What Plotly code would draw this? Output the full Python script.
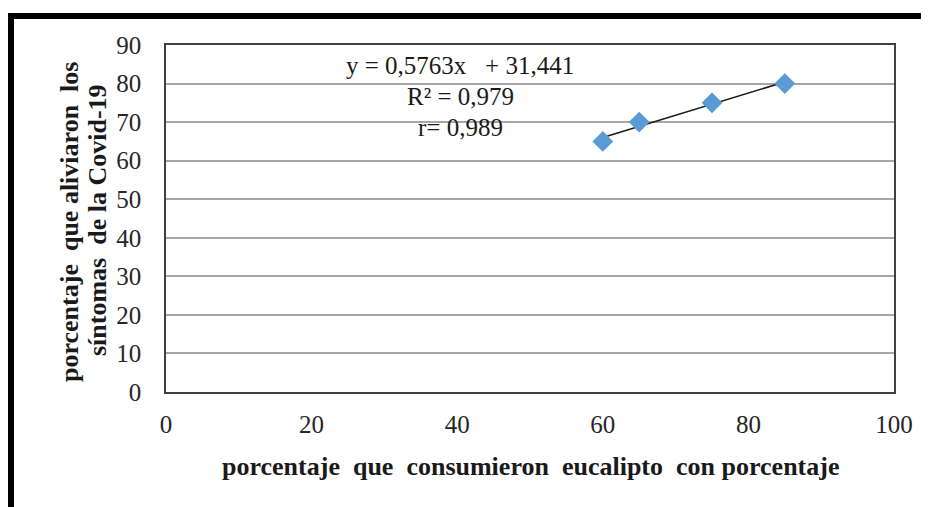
import plotly.graph_objects as go

# Data
consumo = [60, 65, 75, 85]
alivio = [65, 70, 75, 80]
slope = 0.5763
intercept = 31.441
trend_x = [60, 85]
trend_y = [slope * v + intercept for v in trend_x]

x_ticks = [0, 20, 40, 60, 80, 100]
y_ticks = [0, 10, 20, 30, 40, 50, 60, 70, 80, 90]

eq_lines = ["y = 0,5763x \u00a0 + 31,441", "R² = 0,979", "r= 0,989"]
x_title = "porcentaje \u00a0que \u00a0consumieron \u00a0eucalipto \u00a0con porcentaje"
y_title_1 = "porcentaje \u00a0que aliviaron \u00a0los"
y_title_2 = "síntomas \u00a0de la Covid-19"

# page has an 8px body margin: figure origin sits at (8, 8)
OX, OY = 8, 8
PAGE_W, PAGE_H = 929, 507
W, H = PAGE_W - OX, PAGE_H - OY
PL, PR, PT, PB = 166, 894, 45, 392  # plot area in page pixels
L, R, T, B = PL - OX, PAGE_W - PR, PT - OY, PAGE_H - PB
PW, PH = W - L - R, H - T - B

def px(x):
    return (x - OX - L) / PW

def py(y):
    return 1 - (y - OY - T) / PH

FONT = "Liberation Serif"

fig = go.Figure()
fig.add_trace(go.Scatter(
    x=trend_x, y=trend_y, mode="lines",
    line=dict(color="#1a1a1a", width=1.6), showlegend=False, hoverinfo="skip"))
fig.add_trace(go.Scatter(
    x=consumo, y=alivio, mode="markers",
    marker=dict(symbol="diamond", size=16, color="#5B9BD5",
                line=dict(width=0)),
    showlegend=False))

fig.update_layout(
    width=W, height=H,
    margin=dict(l=L, r=R, t=T, b=B),
    paper_bgcolor="white", plot_bgcolor="white",
    font=dict(family=FONT, size=25, color="#262626"),
    xaxis=dict(range=[0, 100], tickvals=x_ticks, showgrid=False, zeroline=False,
               showline=True, linecolor="#404040", linewidth=1.5, mirror=True,
               ticks="", ticklabelstandoff=9,
               tickfont=dict(family=FONT, size=25, color="#262626")),
    yaxis=dict(range=[0, 90], tickvals=y_ticks, showgrid=True, gridcolor="#a6a6a6",
               gridwidth=1.5, zeroline=False,
               showline=True, linecolor="#404040", linewidth=1.5, mirror=True,
               ticks="", ticklabelstandoff=18,
               tickfont=dict(family=FONT, size=25, color="#262626")),
)

ann = []
for txt, yy in zip(eq_lines, [66, 97, 127]):
    ann.append(dict(text=txt, x=px(460), y=py(yy), xref="paper", yref="paper",
                    xanchor="center", yanchor="middle", showarrow=False,
                    font=dict(family=FONT, size=25, color="#1a1a1a")))
ann.append(dict(text="<b>" + x_title + "</b>", x=px(530), y=py(466), xref="paper", yref="paper",
                xanchor="center", yanchor="middle", showarrow=False,
                font=dict(family=FONT, size=26, color="#1a1a1a")))
ann.append(dict(text="<b>" + y_title_1 + "</b>", x=px(70), y=py(222), xref="paper", yref="paper",
                xanchor="center", yanchor="middle", showarrow=False, textangle=-90,
                font=dict(family=FONT, size=26, color="#1a1a1a")))
ann.append(dict(text="<b>" + y_title_2 + "</b>", x=px(97), y=py(220), xref="paper", yref="paper",
                xanchor="center", yanchor="middle", showarrow=False, textangle=-90,
                font=dict(family=FONT, size=26, color="#1a1a1a")))
fig.update_layout(annotations=ann)

# outer frame (left and top thick black border)
fig.add_shape(type="line", xref="paper", yref="paper",
              x0=px(11), x1=px(11), y0=py(13), y1=py(515),
              line=dict(color="black", width=6))
fig.add_shape(type="line", xref="paper", yref="paper",
              x0=px(8), x1=px(940), y0=py(16), y1=py(16),
              line=dict(color="black", width=6))

fig.write_html("out.html")
